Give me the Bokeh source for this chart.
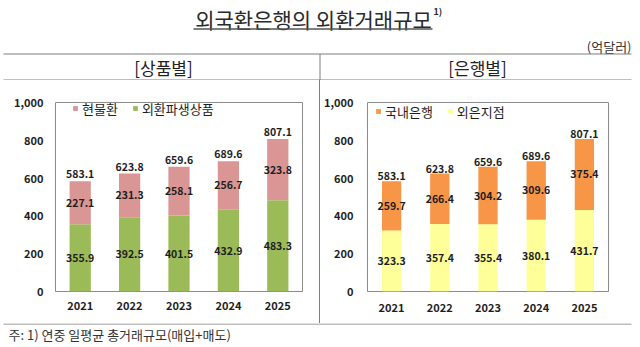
from bokeh.plotting import figure
from bokeh.layouts import column, row
from bokeh.models import (ColumnDataSource, Range1d, FactorRange, FixedTicker,
                          NumeralTickFormatter, Legend, LegendItem, Div)
from bokeh.core.properties import value
from bokeh.embed import file_html
from bokeh.resources import INLINE

# ---------------- data ----------------
years = ["2021", "2022", "2023", "2024", "2025"]
spot = [227.1, 231.3, 258.1, 256.7, 323.8]          # 현물환
derivatives = [355.9, 392.5, 401.5, 432.9, 483.3]   # 외환파생상품
domestic = [259.7, 266.4, 304.2, 309.6, 375.4]      # 국내은행
foreign = [323.3, 357.4, 355.4, 380.1, 431.7]       # 외은지점
totals = [583.1, 623.8, 659.6, 689.6, 807.1]
y_ticks = [0, 200, 400, 600, 800, 1000]

FONT = value("Noto Sans CJK KR")
TXT = "#1e1e1e"
LINE = "#7f7f7f"
PINK, GREEN = "#D99694", "#9BBB59"
ORANGE, YELLOW = "#F79646", "#FFFF99"


def bare(p):
    p.min_border = 0
    p.outline_line_color = None
    p.xaxis.visible = False
    p.yaxis.visible = False
    p.xgrid.visible = False
    p.ygrid.visible = False


# ---------------- header ----------------
hdr = figure(width=640, height=80, x_range=Range1d(0, 640), y_range=Range1d(80, 0),
             output_backend="svg", toolbar_location=None)
bare(hdr)
hdr.text(x=[313], y=[18], text=["외국환은행의 외환거래규모"], text_font=FONT,
         text_font_size="21px", text_align="center", text_baseline="middle",
         text_color="#2a2a2a")
hdr.text(x=[433], y=[11], text=["1)"], text_font=FONT, text_font_size="9px",
         text_font_style="bold", text_align="left", text_baseline="middle",
         text_color="#2a2a2a")
hdr.segment(x0=[193], x1=[432], y0=[28.5], y1=[28.5], line_color="#555555", line_width=1.5)
hdr.text(x=[631], y=[46], text=["(억달러)"], text_font=FONT, text_font_size="13px",
         text_align="right", text_baseline="middle", text_color="#333333")
hdr.segment(x0=[3, 3, 319.5], x1=[631, 631, 319.5], y0=[53.5, 79.5, 53.5],
            y1=[53.5, 79.5, 80], line_color=LINE, line_width=1)
hdr.text(x=[163, 477], y=[67, 67], text=["[상품별]", "[은행별]"], text_font=FONT,
         text_font_size="17px", text_align="center", text_baseline="middle",
         text_color="#222222")


# ---------------- charts ----------------
def make_chart(width, bl, br, bt, bb, lower, upper, names, colors, bar_w,
               legend_loc, std_x, std_y, tot_off):
    src = ColumnDataSource(dict(
        year=years, lower=lower, upper=upper,
        mid_low=[v / 2 for v in lower],
        mid_up=[a + b / 2 for a, b in zip(lower, upper)],
        total=totals,
        lab_low=[f"{v:.1f}" for v in lower],
        lab_up=[f"{v:.1f}" for v in upper],
        lab_tot=[f"{v:.1f}" for v in totals],
    ))
    p = figure(width=width, height=243, x_range=FactorRange(*years),
               y_range=Range1d(0, 1000), output_backend="svg",
               toolbar_location=None)
    p.min_border = 0
    p.min_border_left, p.min_border_right = bl, br
    p.min_border_top, p.min_border_bottom = bt, bb
    p.outline_line_color = "#8c8c8c"
    p.outline_line_width = 1
    p.xgrid.visible = False
    p.ygrid.visible = False
    rs = p.vbar_stack(["lower", "upper"], x="year", width=bar_w, color=colors,
                      line_color=None, source=src)
    for ax in (p.xaxis[0], p.yaxis[0]):
        ax.axis_line_color = None
        ax.major_tick_line_color = None
        ax.minor_tick_line_color = None
        ax.major_tick_out = 0
        ax.major_tick_in = 0
        ax.minor_tick_out = 0
        ax.minor_tick_in = 0
        ax.major_label_text_font = "Noto Sans CJK KR"
        ax.major_label_text_font_style = "bold"
        ax.major_label_text_font_size = "11px"
        ax.major_label_text_color = TXT
    p.yaxis.ticker = FixedTicker(ticks=y_ticks)
    p.yaxis.formatter = NumeralTickFormatter(format="0,0")
    p.yaxis.major_label_standoff = std_y
    p.xaxis.major_label_standoff = std_x

    common = dict(text_font=FONT, text_font_size="10.5px", text_font_style="bold",
                  text_align="center", text_color=TXT, source=src)
    p.text(x="year", y="mid_low", text="lab_low", text_baseline="middle", **common)
    p.text(x="year", y="mid_up", text="lab_up", text_baseline="middle", **common)
    p.text(x="year", y="total", text="lab_tot", text_baseline="bottom",
           y_offset=tot_off, **common)

    leg = Legend(items=[LegendItem(label=names[1], renderers=[rs[1]]),
                        LegendItem(label=names[0], renderers=[rs[0]])],
                 orientation="horizontal", location=legend_loc,
                 glyph_width=6, glyph_height=6, label_standoff=4, spacing=14,
                 padding=0, margin=0, border_line_color=None,
                 background_fill_alpha=0, label_text_font="Noto Sans CJK KR",
                 label_text_font_size="13px", label_text_color=TXT,
                 label_height=26, label_text_baseline="middle")
    p.add_layout(leg)
    return p


left = make_chart(319, 55, 17, 15, 32, derivatives, spot, ["외환파생상품", "현물환"],
                  [GREEN, PINK], 0.43, (17, 170), 9, 12, -3)
right = make_chart(320, 47, 32, 22, 30, foreign, domestic, ["외은지점", "국내은행"],
                   [YELLOW, ORANGE], 0.40, (8, 167), 11, 14, -1)

divider = Div(width=1, height=243, margin=0,
              styles={"background-color": LINE})

# ---------------- footer ----------------
ftr = figure(width=640, height=24, x_range=Range1d(0, 640), y_range=Range1d(24, 0),
             output_backend="svg", toolbar_location=None)
bare(ftr)
ftr.segment(x0=[3], x1=[631], y0=[0.5], y1=[0.5], line_color=LINE, line_width=1)
ftr.text(x=[8], y=[10.5], text=["주: 1) 연중 일평균 총거래규모(매입+매도)"], text_font=FONT,
         text_font_size="13px", text_align="left", text_baseline="middle",
         text_color="#333333")

layout = column(hdr, row(left, divider, right, spacing=0), ftr, spacing=0)
open("out.html", "w").write(file_html(layout, INLINE))
